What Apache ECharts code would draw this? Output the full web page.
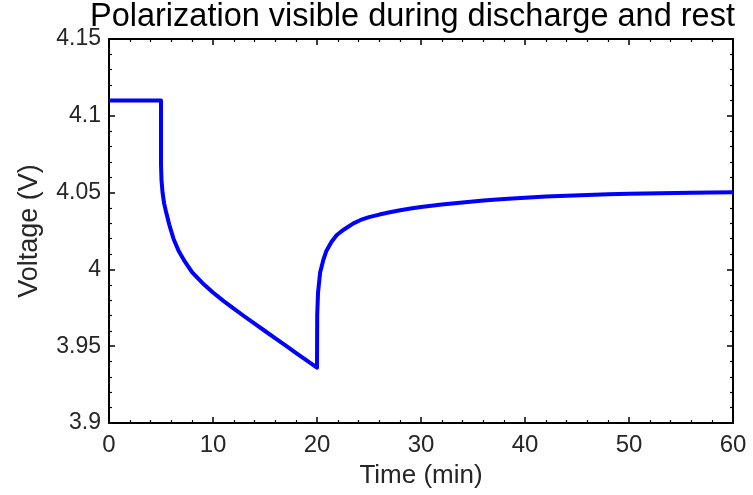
<!DOCTYPE html>
<html>
<head>
<meta charset="utf-8">
<script src="https://cdn.jsdelivr.net/npm/echarts@6/dist/echarts.min.js"></script>
<style>html,body{margin:0;padding:0;background:#fff}#c{width:753px;height:495px}</style>
</head>
<body>
<div id="c"></div>
<script>
var titleText = 'Polarization visible during discharge and rest';
var xName = 'Time (min)';
var yName = 'Voltage (V)';
// time (min)
var timeMin = [0, 5, 5, 5.05, 5.15, 5.3, 5.5, 5.8, 6.2, 6.7, 7.3, 8, 9, 10, 11, 12, 13, 14, 15, 16, 17, 18, 19, 20,
  20, 20.02, 20.1, 20.3, 20.6, 20.9, 21.4, 21.9, 22.6, 23.5, 24.2, 25, 26, 27, 28, 29, 30, 32, 34, 36, 38, 40, 42, 44, 46, 48, 50, 53, 56, 60];
// voltage (V)
var voltage = [4.11, 4.11, 4.068, 4.058, 4.050, 4.043, 4.037, 4.029, 4.020, 4.012, 4.005, 3.998, 3.991, 3.985, 3.9795, 3.9745, 3.9695, 3.9647, 3.9599, 3.9551, 3.9503, 3.9455, 3.9408, 3.936,
  3.936, 3.970, 3.985, 3.998, 4.006, 4.012, 4.018, 4.0224, 4.026, 4.030, 4.0322, 4.034, 4.0357, 4.0372, 4.0385, 4.0396, 4.0406, 4.0422, 4.0436, 4.0448, 4.0458, 4.0467, 4.0474, 4.048, 4.0485, 4.0489, 4.0492, 4.0496, 4.0499, 4.0503];

var xMin = 0, xMax = 60, xStep = 10;
var yMin = 3.9, yMax = 4.15, yStep = 0.05;

var pts = timeMin.map(function (t, i) { return [t, voltage[i]]; });
var font = 'Liberation Sans, Arial, sans-serif';
var txt = '#262626';

function axisBase(extra) {
  var a = {
    type: 'value',
    axisLine: { show: true, onZero: false, lineStyle: { color: '#000', width: 2 } },
    axisTick: { show: true, inside: true, length: 6, lineStyle: { color: '#000', width: 1.5 } },
    minorTick: { show: true, splitNumber: 5, length: 3, lineStyle: { color: '#000', width: 1.2 } },
    splitLine: { show: false },
    minorSplitLine: { show: false }
  };
  for (var k in extra) a[k] = extra[k];
  return a;
}

var chart = echarts.init(document.getElementById('c'));
chart.setOption({
  animation: false,
  backgroundColor: '#fff',
  title: {
    text: titleText, left: 90, top: 1, padding: 0,
    textStyle: { fontFamily: font, fontSize: 32.5, fontWeight: 'normal', color: '#000' }
  },
  grid: { left: 109, right: 20, top: 39, bottom: 72 },
  xAxis: [
    axisBase({
      position: 'bottom', min: xMin, max: xMax, interval: xStep,
      name: xName, nameLocation: 'middle', nameGap: 40,
      nameTextStyle: { fontFamily: font, fontSize: 26, color: txt },
      axisLabel: { fontFamily: font, fontSize: 24, color: txt, margin: 10 }
    }),
    axisBase({
      position: 'top', min: xMin, max: xMax, interval: xStep,
      axisLabel: { show: false }
    })
  ],
  yAxis: [
    axisBase({
      position: 'left', min: yMin, max: yMax, interval: yStep,
      name: yName, nameLocation: 'middle', nameGap: 66,
      nameTextStyle: { fontFamily: font, fontSize: 27, color: txt },
      axisLabel: { fontFamily: font, fontSize: 23, color: txt, margin: 8,
        formatter: function (v) { return String(+v.toFixed(2)); } }
    }),
    axisBase({
      position: 'right', min: yMin, max: yMax, interval: yStep,
      axisLabel: { show: false }
    })
  ],
  series: [{
    type: 'line',
    data: pts,
    xAxisIndex: 0, yAxisIndex: 0,
    showSymbol: false,
    smooth: false,
    lineStyle: { color: '#0000ff', width: 4, join: 'round' },
    clip: true
  }]
});
</script>
</body>
</html>
